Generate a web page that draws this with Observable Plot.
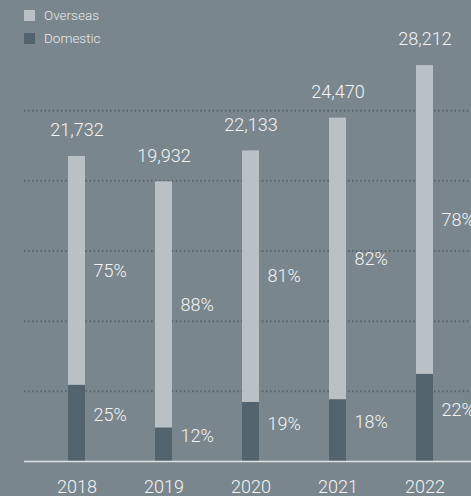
<!DOCTYPE html>
<html>
<head>
<meta charset="utf-8">
<script src="https://cdn.jsdelivr.net/npm/d3@7"></script>
<script src="https://cdn.jsdelivr.net/npm/@observablehq/plot@0.6"></script>
<style>
  html, body { margin: 0; padding: 0; background: #7a868d; }
  #wrap { position: relative; width: 471px; height: 496px; overflow: hidden; font-family: Roboto, Lato, sans-serif; }
  #legend { position: absolute; left: 24px; top: 4px; }
  #legend div { font-family: Roboto, Lato, sans-serif !important; font-size: 13.5px !important; font-weight: 300 !important; color: #e6eaec !important; line-height: 22px !important; }
  #legend svg { margin-right: 9px !important; }
</style>
</head>
<body>
<div id="wrap"><div id="chart"></div><div id="legend"></div></div>
<script>
const years = ["2018", "2019", "2020", "2021", "2022"];
const totals = [21732, 19932, 22133, 24470, 28212];
const domesticPct = [25, 12, 19, 18, 22];
const overseasPct = [75, 88, 81, 82, 78];
const seriesNames = ["Overseas", "Domestic"];
const seriesColors = ["#b9c0c6", "#53646e"];
const gridTicks = [5000, 10000, 15000, 20000, 25000];

const rows = [];
years.forEach((y, i) => {
  rows.push({year: y, type: "Domestic", value: totals[i] * domesticPct[i] / 100, pct: domesticPct[i]});
});
years.forEach((y, i) => {
  rows.push({year: y, type: "Overseas", value: totals[i] * overseasPct[i] / 100, pct: overseasPct[i]});
});
const totalRows = years.map((y, i) => ({year: y, total: totals[i]}));

const textColor = "#f2f4f5";
const font = "Roboto, Lato, sans-serif";

const chart = Plot.plot({
  width: 471,
  height: 496,
  marginTop: 40,
  marginBottom: 35,
  marginLeft: 24,
  marginRight: 0,
  style: {background: "transparent", fontFamily: font, fontWeight: 300, color: textColor},
  x: {type: "band", domain: years, range: [23.25, 477.75], paddingInner: 0.806, paddingOuter: 0.5, label: null},
  y: {domain: [0, 30000], axis: null},
  color: {domain: seriesNames, range: seriesColors},
  marks: [
    Plot.ruleY(gridTicks, {stroke: "#56646c", strokeWidth: 2, strokeDasharray: "1.5,2.6"}),
    Plot.barY(rows, Plot.stackY({x: "year", y: "value", fill: "type", order: null})),
    Plot.ruleY([0], {stroke: "#dde2e5", strokeWidth: 1.5}),
    Plot.text(totalRows, {x: "year", y: "total", text: d => d3.format(",")(d.total), dy: -26, fontSize: 18, fontWeight: 300, fill: textColor}),
    Plot.text(rows, Plot.stackY({
      x: "year", y: "value", z: "type", order: null,
      text: d => d.type === "Overseas" ? d.pct + "%" : "",
      textAnchor: "start", dx: 16.5, fontSize: 18, fontWeight: 300, fill: textColor
    })),
    Plot.text(rows, Plot.stackY({
      x: "year", y: "value", z: "type", order: null,
      text: d => d.type === "Domestic" ? d.pct + "%" : "",
      textAnchor: "start", dx: 16.5, dy: -8, fontSize: 18, fontWeight: 300, fill: textColor
    })),
    Plot.axisX({tickSize: 0, tickPadding: 19, fontSize: 18, fontWeight: 300, fill: textColor, label: null})
  ]
});
document.getElementById("chart").appendChild(chart);

const legend = chart.legend("color", {
  legend: "swatches",
  columns: 1,
  swatchSize: 11
});
document.getElementById("legend").appendChild(legend);
</script>
</body>
</html>
